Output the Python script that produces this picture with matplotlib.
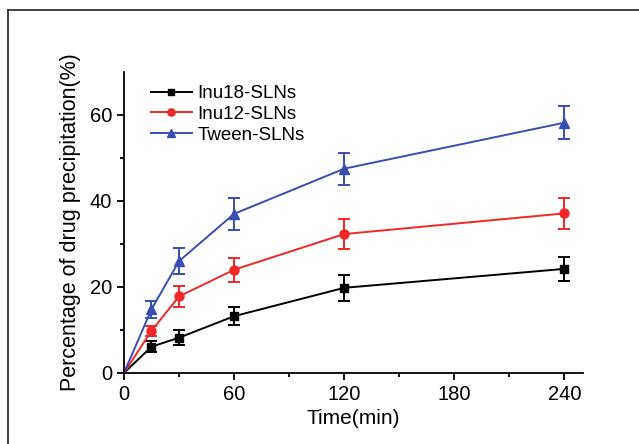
import matplotlib
matplotlib.use('Agg')
import matplotlib.pyplot as plt
from matplotlib.lines import Line2D
import numpy as np

plt.rcParams.update({"font.family": "sans-serif", "font.sans-serif": ["Liberation Sans", "DejaVu Sans"]})

time = [0, 15, 30, 60, 120, 240]

inu18 = [0, 6.1, 8.2, 13.2, 19.8, 24.2]
inu18_err = [0, 1.3, 1.8, 2.1, 3.0, 2.7]

inu12 = [0, 9.8, 17.8, 24.0, 32.3, 37.1]
inu12_err = [0, 1.2, 2.4, 2.8, 3.5, 3.6]

tween = [0, 14.8, 26.0, 37.0, 47.5, 58.2]
tween_err = [0, 2.0, 3.0, 3.7, 3.7, 3.9]

fig = plt.figure(figsize=(6.39, 4.44), dpi=100)
ax = fig.add_axes([0.194, 0.16, 0.718, 0.678])

# outer frame: only top and left edges show in the original
x0 = 8/639
y0 = 1 - 10/444
fig.add_artist(Line2D([x0, 1.05], [y0, y0], transform=fig.transFigure, color='#333333',
                      linewidth=1.3, clip_on=False))
fig.add_artist(Line2D([x0, x0], [-0.05, y0], transform=fig.transFigure, color='#333333',
                      linewidth=1.3, clip_on=False))

series = [
    ('Inu18-SLNs', inu18, inu18_err, 'black', 's', 6),
    ('Inu12-SLNs', inu12, inu12_err, '#f02828', 'o', 6.5),
    ('Tween-SLNs', tween, tween_err, '#3a4db0', '^', 7),
]
for name, vals, err, col, mk, ms in series:
    ax.plot(time, vals, color=col, marker=mk, markersize=ms, markevery=slice(1, None),
            linewidth=1.4, label=name)
    ax.errorbar(time[1:], vals[1:], yerr=err[1:], fmt='none', ecolor=col,
                elinewidth=1.4, capsize=4, capthick=1.4)

ax.set_xlim(0, 250)
ax.set_ylim(0, 70)
ax.set_xticks([0, 60, 120, 180, 240])
ax.set_xticks([30, 90, 150, 210], minor=True)
ax.set_yticks([0, 20, 40, 60])
ax.set_yticks([10, 30, 50], minor=True)
ax.tick_params(axis='both', which='major', direction='out', length=5, width=1.3, labelsize=14.5)
ax.tick_params(axis='both', which='minor', direction='out', length=3, width=1.3)
ax.spines['right'].set_visible(False)
ax.spines['top'].set_visible(False)
ax.spines['left'].set_linewidth(1.3)
ax.spines['bottom'].set_linewidth(1.3)

ax.set_xlabel('Time(min)', fontsize=15)
ax.set_ylabel('Percentage of drug precipitation(%)', fontsize=15.5, labelpad=6)

leg = ax.legend(loc='upper left', frameon=False, fontsize=13.5, handlelength=2.2,
                handletextpad=0.3, labelspacing=0.2, borderaxespad=0.3,
                bbox_to_anchor=(0.03, 1.0), markerscale=0.8)

fig.savefig('out.png', dpi=100)
